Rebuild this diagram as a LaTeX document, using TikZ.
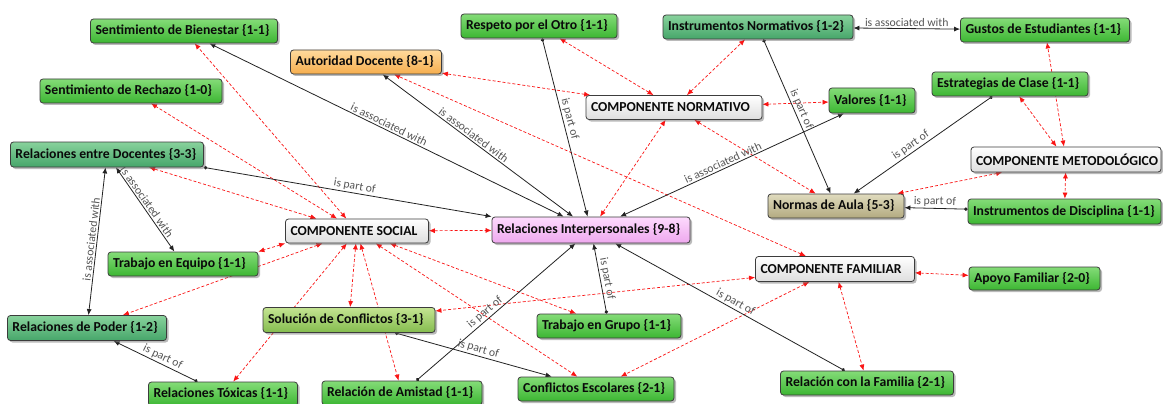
\documentclass[tikz,border=0pt]{standalone}
\usepackage{fontspec}
\setmainfont{Carlito}
\usetikzlibrary{arrows.meta,shadows,backgrounds}
\pgfdeclarelayer{back}
\pgfsetlayers{back,background,main}
\definecolor{gT}{RGB}{132,220,120}
\definecolor{gB}{RGB}{60,182,50}
\definecolor{tT}{RGB}{136,210,156}
\definecolor{tB}{RGB}{70,166,106}
\definecolor{kT}{RGB}{224,219,190}
\definecolor{kB}{RGB}{178,170,128}
\definecolor{oT}{RGB}{196,228,146}
\definecolor{oB}{RGB}{132,188,78}
\definecolor{orT}{RGB}{255,218,156}
\definecolor{orB}{RGB}{246,174,78}
\definecolor{pT}{RGB}{253,218,253}
\definecolor{pB}{RGB}{238,168,238}
\definecolor{wT}{RGB}{255,255,255}
\definecolor{wB}{RGB}{222,222,222}
\definecolor{bord}{RGB}{60,60,60}
\definecolor{txt}{RGB}{10,10,10}
\definecolor{lnk}{RGB}{35,35,35}
\definecolor{labc}{RGB}{85,85,85}
\definecolor{relred}{RGB}{250,20,20}
\newcommand\cnode[7]{\node[cbox,#6,minimum width=#4pt,minimum height=#5pt] (#1) at (#2,#3) {\makebox[\dimexpr#4pt-10pt\relax][l]{#7}};}
\tikzset{
  cbox/.style={draw=bord, line width=0.8pt, rounded corners=3pt, inner xsep=5pt, inner ysep=0pt,
    font=\fontsize{13.7}{15}\selectfont\bfseries, text=txt,
    drop shadow={shadow xshift=2pt, shadow yshift=-2pt, opacity=0.45, fill=black!60}},
  fgreen/.style={top color=gT, bottom color=gB},
  fteal/.style={top color=tT, bottom color=tB},
  fkhaki/.style={top color=kT, bottom color=kB},
  folive/.style={top color=oT, bottom color=oB},
  forange/.style={top color=orT, bottom color=orB},
  fpink/.style={top color=pT, bottom color=pB},
  fgray/.style={top color=wT, bottom color=wB},
  rel/.style={draw=relred, line width=0.7pt, dash pattern=on 3pt off 2pt,
    {Latex[length=6pt,width=5pt]}-{Latex[length=6pt,width=5pt]}},
  partof/.style={draw=lnk, line width=0.8pt, {Circle[length=3.4pt]}-{Latex[length=6pt,width=5pt]}},
  assoc/.style={draw=lnk, line width=0.8pt, {Latex[length=6pt,width=5pt]}-{Latex[length=6pt,width=5pt]}},
  lab/.style={sloped, above, font=\fontsize{11.7}{12}\selectfont, text=labc, inner sep=1.5pt},
}
\begin{document}
\begin{tikzpicture}[x=1pt,y=-1pt]
\useasboundingbox (0,0) rectangle (1163,404);
\begin{pgfonlayer}{back}
\fill[white] (0,0) rectangle (1163,404);
\end{pgfonlayer}
% nodes
\cnode{bien}{184}{31}{187}{24}{fgreen}{Sentimiento de Bienestar \{1-1\}}
\cnode{auto}{366}{62}{151}{24}{forange}{Autoridad Docente \{8-1\}}
\cnode{rech}{131}{91}{182}{24}{fgreen}{Sentimiento de Rechazo \{1-0\}}
\cnode{resp}{539}{26}{156}{24}{fgreen}{Respeto por el Otro \{1-1\}}
\cnode{inorm}{758}{27}{190}{24}{fteal}{Instrumentos Normativos \{1-2\}}
\cnode{gust}{1045}{30}{169}{24}{fgreen}{Gustos de Estudiantes \{1-1\}}
\cnode{norm}{674}{107.5}{176}{24}{fgray}{COMPONENTE NORMATIVO}
\cnode{val}{872}{100.5}{86}{25}{fgreen}{Valores \{1-1\}}
\cnode{estr}{1010}{84}{156}{24}{fgreen}{Estrategias de Clase \{1-1\}}
\cnode{doc}{107}{154.5}{193}{25}{fteal}{Relaciones entre Docentes \{3-3\}}
\cnode{metod}{1066}{159.5}{190}{25}{fgray}{COMPONENTE METODOLÓGICO}
\cnode{normas}{836}{206}{136}{24}{fkhaki}{Normas de Aula \{5-3\}}
\cnode{disc}{1064.5}{211.5}{193}{25}{fgreen}{Instrumentos de Disciplina \{1-1\}}
\cnode{social}{357}{231}{143}{24}{fgray}{COMPONENTE SOCIAL}
\cnode{inter}{591}{230}{198}{26}{fpink}{Relaciones Interpersonales \{9-8\}}
\cnode{equipo}{183}{264}{150}{24}{fgreen}{Trabajo en Equipo \{1-1\}}
\cnode{fam}{835}{269}{159}{25}{fgray}{COMPONENTE FAMILIAR}
\cnode{apoyo}{1034.5}{278.5}{131}{23}{fgreen}{Apoyo Familiar \{2-0\}}
\cnode{poder}{87}{328}{159}{25}{fteal}{Relaciones de Poder \{1-2\}}
\cnode{sol}{349}{320}{172}{25}{folive}{Solución de Conflictos \{3-1\}}
\cnode{grupo}{609}{326}{144}{24}{fgreen}{Trabajo en Grupo \{1-1\}}
\cnode{tox}{223}{394}{149}{24}{fgreen}{Relaciones Tóxicas \{1-1\}}
\cnode{amis}{402}{393}{160}{24}{fgreen}{Relación de Amistad \{1-1\}}
\cnode{confl}{596}{389}{156}{24}{fgreen}{Conflictos Escolares \{2-1\}}
\cnode{relfam}{867}{383}{173}{24}{fgreen}{Relación con la Familia \{2-1\}}
% connectors
\begin{scope}[on background layer]
% red dashed
\draw[rel] (social) -- (bien);
\draw[rel] (social) -- (rech);
\draw[rel] (social) -- (doc);
\draw[rel] (social.south west) -- (equipo.north east);
\draw[rel] (social) -- (poder);
\draw[rel] (social) -- (tox);
\draw[rel] (social) -- (sol);
\draw[rel] (social) -- (amis);
\draw[rel] (social) -- (confl);
\draw[rel] (social) -- (grupo);
\draw[rel] (social) -- (inter);
\draw[rel] (inter) -- (norm);
\draw[rel] (norm) -- (resp);
\draw[rel] (norm) -- (inorm);
\draw[rel] (norm) -- (auto);
\draw[rel] (norm) -- (val);
\draw[rel] (norm) -- (normas);
\draw[rel] (metod) -- (gust);
\draw[rel] (metod) -- (estr);
\draw[rel] (metod) -- (normas);
\draw[rel] (metod) -- (disc);
\draw[rel] (fam) -- (apoyo);
\draw[rel] (fam) -- (relfam);
\draw[rel] (fam) -- (confl);
\draw[rel] (fam) -- (sol);
\draw[rel] (fam) -- (auto);
% black
\draw[assoc] (bien) -- node[lab, pos=0.5] {is associated with} (inter);
\draw[assoc] (auto) -- node[lab, pos=0.46] {is associated with} (inter);
\draw[partof] (resp) -- node[lab, pos=0.46] {is part of} (inter);
\draw[partof] (doc.south east) -- node[lab, pos=0.52] {is part of} (inter.north west);
\draw[assoc] (inter) -- node[lab, pos=0.47] {is associated with} (val);
\draw[partof] (amis) -- node[lab, pos=0.46] {is part of} (inter);
\draw[partof] (grupo) -- node[lab, pos=0.48] {is part of} (inter);
\draw[partof] (relfam) -- node[lab, pos=0.49] {is part of} (inter);
\draw[partof] (inorm) -- node[lab, pos=0.47] {is part of} (normas);
\draw[partof] (estr) -- node[lab, pos=0.56] {is part of} (normas);
\draw[partof] (disc) -- node[lab, pos=0.52] {is part of} (normas);
\draw[assoc] (inorm) -- node[lab, pos=0.5] {is associated with} (gust);
\draw[assoc] (doc) -- node[lab, pos=0.45] {is associated with} (equipo);
\draw[assoc] (poder) -- node[lab, pos=0.51] {is associated with} (doc);
\draw[partof] (tox) -- node[lab, pos=0.45] {is part of} (poder);
\draw[partof] (sol) -- node[lab, pos=0.52] {is part of} (confl);
\end{scope}
\end{tikzpicture}
\end{document}
